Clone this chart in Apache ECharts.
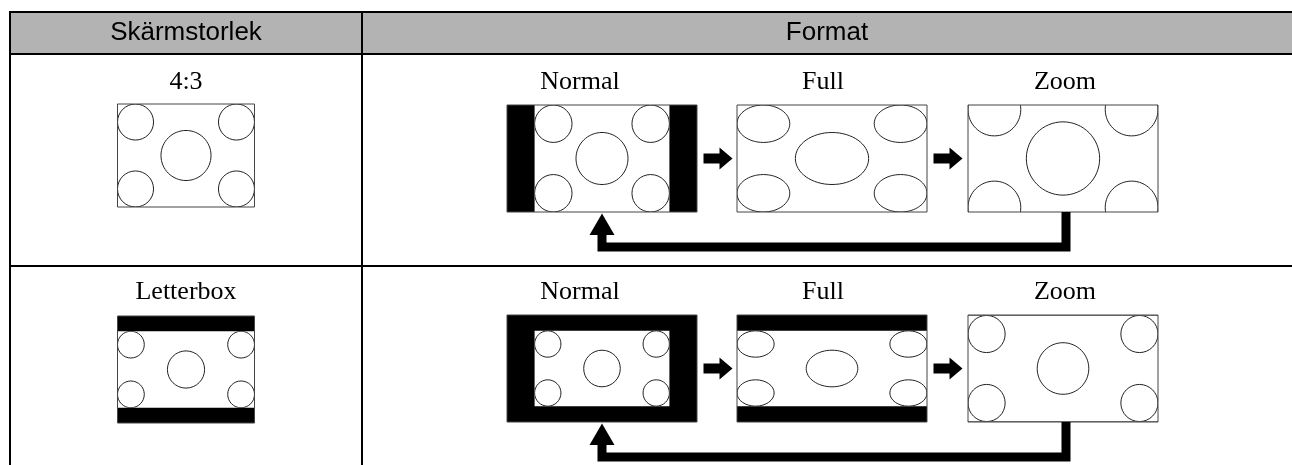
<!DOCTYPE html>
<html>
<head>
<meta charset="utf-8">
<script src="https://cdn.jsdelivr.net/npm/echarts/dist/echarts.min.js"></script>
<style>
  html, body { margin: 0; padding: 0; background: #fff; }
  #chart { width: 1292px; height: 465px; }
</style>
</head>
<body>
<div id="chart"></div>
<script>
// table texts
var headers = ['Skärmstorlek', 'Format'];
var screenSizes = ['4:3', 'Letterbox'];
var formats = ['Normal', 'Full', 'Zoom'];
// what is in each source picture: aspect of the screen box and of the image inside it
var boxAspect = [1.26, 1.26];
var contentAspect = [1.26, 1.79];
// spot radii (corner, centre) as part of the image height
var spotSizes = [0.175, 0.243];

// layout, in page units (the hidden axes map them 1:1 to pixels)
var W = 1292, H = 465;
var tableLeft = 10, tableTop = 12, headerBottom = 54, rowLine = 266, colLine = 362;
var iconCenterX = 186;
var iconTop = [104, 316];
var iconSize = [[137, 103], [137, 107]];
var labelY = [82, 292];
var frameLeft = [507, 737, 968];
var frameTop = [105, 315];
var frameW = 190, frameH = 107;
var labelX = [580, 823, 1065];
var returnX = [602, 1066];

var serif = '"Liberation Serif", "Times New Roman", serif';
var sans = '"Liberation Sans", Arial, sans-serif';

function toRect(api, r) {
  var p0 = api.coord([r.x, r.y]);
  var p1 = api.coord([r.x + r.w, r.y + r.h]);
  return {
    x: Math.min(p0[0], p1[0]), y: Math.min(p0[1], p1[1]),
    width: Math.abs(p1[0] - p0[0]), height: Math.abs(p1[1] - p0[1])
  };
}

function intersect(a, b) {
  var x = Math.max(a.x, b.x), y = Math.max(a.y, b.y);
  var x2 = Math.min(a.x + a.w, b.x + b.w), y2 = Math.min(a.y + a.h, b.y + b.h);
  return { x: x, y: y, w: x2 - x, h: y2 - y };
}

function label(api, text, x, y, font) {
  var p = api.coord([x, y]);
  return {
    type: 'text',
    style: {
      text: text, x: p[0], y: p[1], fill: '#000',
      fontSize: 26, fontFamily: font,
      align: 'center', verticalAlign: 'middle'
    }
  };
}

// one screen picture: frame, black bars, white image and its five spots
function picture(api, row, frame, mode) {
  var asp = mode === 'icon' ? frame.w / frame.h : boxAspect[row];
  var box;
  if (mode === 'Normal') box = { w: frame.h * asp, h: frame.h };
  else if (mode === 'Zoom') box = { w: frame.w, h: frame.w / asp };
  else box = { w: frame.w, h: frame.h };
  box.x = frame.x + (frame.w - box.w) / 2;
  box.y = frame.y + (frame.h - box.h) / 2;

  var hf = Math.min(1, asp / contentAspect[row]);
  var img = { x: box.x, w: box.w, h: box.h * hf };
  img.y = box.y + (box.h - img.h) / 2;
  var stretch = mode === 'Full' ? (img.w / img.h) / contentAspect[row] : 1;

  var shown = intersect(img, frame);
  var spots = [];
  var corner = spotSizes[0] * img.h, centre = spotSizes[1] * img.h;
  var cxs = [img.x + corner * stretch, img.x + img.w - corner * stretch];
  var cys = [img.y + corner, img.y + img.h - corner];
  cxs.forEach(function (cx) {
    cys.forEach(function (cy) {
      spots.push({ x: cx, y: cy, rx: corner * stretch, ry: corner });
    });
  });
  spots.push({ x: img.x + img.w / 2, y: img.y + img.h / 2, rx: centre * stretch, ry: centre });

  var clip = toRect(api, shown);
  var children = [
    { type: 'rect', shape: toRect(api, frame), style: { fill: '#000' } },
    { type: 'rect', shape: clip, style: { fill: '#fff' } },
    {
      type: 'group',
      clipPath: { type: 'rect', shape: clip },
      children: spots.map(function (s) {
        var c = api.coord([s.x, s.y]);
        var r = api.size([s.rx, s.ry]);
        return {
          type: 'ellipse',
          shape: { cx: c[0], cy: c[1], rx: r[0], ry: r[1] },
          style: { fill: null, stroke: '#222', lineWidth: 1 }
        };
      })
    },
    { type: 'rect', shape: toRect(api, frame), style: { fill: null, stroke: '#444', lineWidth: 1 } }
  ];
  return { type: 'group', children: children };
}

var chart = echarts.init(document.getElementById('chart'));
chart.setOption({
  animation: false,
  backgroundColor: '#fff',
  grid: { left: 0, right: 0, top: 0, bottom: 0 },
  xAxis: { type: 'value', min: 0, max: W, show: false },
  yAxis: { type: 'value', min: 0, max: H, inverse: true, show: false },
  series: [
    {
      // table: header band, rules and header texts
      type: 'custom',
      silent: true,
      data: [[0, 0]],
      renderItem: function (params, api) {
        var line = function (x1, y1, x2, y2) {
          var a = api.coord([x1, y1]), b = api.coord([x2, y2]);
          return {
            type: 'line',
            shape: { x1: a[0], y1: a[1], x2: b[0], y2: b[1] },
            style: { stroke: '#000', lineWidth: 2 }
          };
        };
        return {
          type: 'group',
          children: [
            { type: 'rect', shape: toRect(api, { x: tableLeft, y: tableTop, w: W - tableLeft, h: headerBottom - tableTop }), style: { fill: '#b3b3b3' } },
            line(tableLeft, tableTop, W, tableTop),
            line(tableLeft, headerBottom, W, headerBottom),
            line(tableLeft, rowLine, W, rowLine),
            line(tableLeft, tableTop - 1, tableLeft, H),
            line(colLine, tableTop - 1, colLine, H),
            label(api, headers[0], (tableLeft + colLine) / 2, (tableTop + headerBottom) / 2, sans),
            label(api, headers[1], (colLine + W) / 2, (tableTop + headerBottom) / 2, sans)
          ]
        };
      }
    },
    {
      // screen size icons in the first column
      type: 'custom',
      silent: true,
      data: screenSizes.map(function (s, i) { return [i, 0]; }),
      renderItem: function (params, api) {
        var row = api.value(0);
        var sz = iconSize[row];
        var frame = { x: iconCenterX - sz[0] / 2, y: iconTop[row], w: sz[0], h: sz[1] };
        return {
          type: 'group',
          children: [
            label(api, screenSizes[row], iconCenterX, labelY[row], serif),
            picture(api, row, frame, 'icon')
          ]
        };
      }
    },
    {
      // the three formats for every screen size
      type: 'custom',
      silent: true,
      data: (function () {
        var d = [];
        screenSizes.forEach(function (s, r) {
          formats.forEach(function (f, c) { d.push([r, c]); });
        });
        return d;
      })(),
      renderItem: function (params, api) {
        var row = api.value(0), col = api.value(1);
        var frame = { x: frameLeft[col], y: frameTop[row], w: frameW, h: frameH };
        return {
          type: 'group',
          children: [
            label(api, formats[col], labelX[col], labelY[row], serif),
            picture(api, row, frame, formats[col])
          ]
        };
      }
    },
    {
      // arrows: Normal -> Full -> Zoom and back to Normal
      type: 'custom',
      silent: true,
      data: screenSizes.map(function (s, i) { return [i, 0]; }),
      renderItem: function (params, api) {
        var row = api.value(0);
        var cy = frameTop[row] + frameH / 2;
        var bottom = frameTop[row] + frameH;
        var children = [];
        for (var c = 0; c < formats.length - 1; c++) {
          var x0 = frameLeft[c] + frameW + 6.5;
          var pts = [
            [x0, cy - 5], [x0 + 16, cy - 5], [x0 + 16, cy - 11], [x0 + 29, cy],
            [x0 + 16, cy + 11], [x0 + 16, cy + 5], [x0, cy + 5]
          ].map(function (p) { return api.coord(p); });
          children.push({ type: 'polygon', shape: { points: pts }, style: { fill: '#000' } });
        }
        var back = [
          [returnX[1], bottom], [returnX[1], bottom + 35],
          [returnX[0], bottom + 35], [returnX[0], bottom + 22]
        ].map(function (p) { return api.coord(p); });
        children.push({
          type: 'polyline', shape: { points: back },
          style: { stroke: '#000', lineWidth: 9, fill: null, lineJoin: 'miter', lineCap: 'butt' }
        });
        var head = [
          [returnX[0], bottom + 1.5], [returnX[0] + 12.5, bottom + 23], [returnX[0] - 12.5, bottom + 23]
        ].map(function (p) { return api.coord(p); });
        children.push({ type: 'polygon', shape: { points: head }, style: { fill: '#000' } });
        return { type: 'group', children: children };
      }
    }
  ]
});
</script>
</body>
</html>
